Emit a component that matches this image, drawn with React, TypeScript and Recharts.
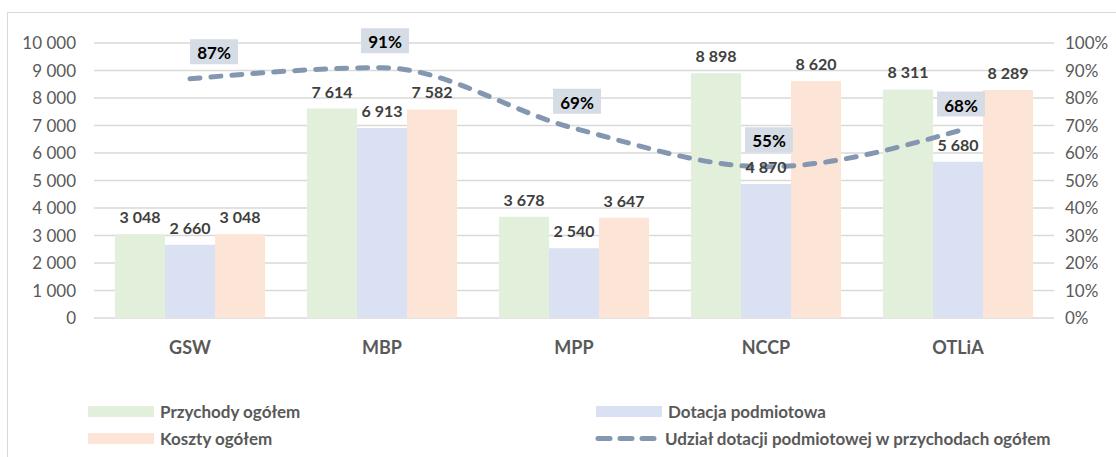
import React from 'react';
import { ComposedChart, Bar, Line, XAxis, YAxis, CartesianGrid, LabelList } from 'recharts';

const categories = ['GSW', 'MBP', 'MPP', 'NCCP', 'OTLiA'];
const przychody = [3048, 7614, 3678, 8898, 8311];
const dotacja = [2660, 6913, 2540, 4870, 5680];
const koszty = [3048, 7582, 3647, 8620, 8289];
const udzial = [0.87, 0.91, 0.69, 0.55, 0.68];
const leftTicks = [0, 1000, 2000, 3000, 4000, 5000, 6000, 7000, 8000, 9000, 10000];
const rightTicks = [0, 0.1, 0.2, 0.3, 0.4, 0.5, 0.6, 0.7, 0.8, 0.9, 1];

const seriesNames = {
  przychody: 'Przychody ogółem',
  dotacja: 'Dotacja podmiotowa',
  koszty: 'Koszty ogółem',
  udzial: 'Udział dotacji podmiotowej w przychodach ogółem',
};

const data = categories.map((c, i) => ({
  name: c,
  przychody: przychody[i],
  dotacja: dotacja[i],
  koszty: koszty[i],
  udzial: udzial[i],
}));

const FONT = 'Lato, "Liberation Sans", sans-serif';
const GREEN = '#e2efda';
const BLUE = '#d9e1f2';
const PEACH = '#fce4d6';
const LINE = '#8497b0';

const fmtNum = (v: number) => String(v).replace(/\B(?=(\d{3})+(?!\d))/g, ' ');
const fmtPct = (v: number) => `${Math.round(v * 100)}%`;

const LineLabel = (props: any) => {
  const { x, y, value, index } = props;
  const cx = x + (index === 0 ? 24 : 3);
  const cy = y - 27;
  const w = 48;
  const h = 25;
  return (
    <g>
      <rect x={cx - w / 2} y={cy - h / 2} width={w} height={h} fill="#d6dce5" />
      <text
        x={cx}
        y={cy + 1}
        textAnchor="middle"
        dominantBaseline="central"
        fontFamily={FONT}
        fontWeight={700}
        fontSize={17}
        fill="#000"
      >
        {fmtPct(value)}
      </text>
    </g>
  );
};

const barLabelStyle = { fontFamily: FONT, fontWeight: 700, fontSize: 16, fill: '#404040' };

const LegendItem = ({ kind, color, label }: { kind: 'box' | 'line'; color: string; label: string }) => (
  <div style={{ display: 'flex', alignItems: 'center', height: 27 }}>
    {kind === 'box' ? (
      <div style={{ width: 66, height: 11, background: color, marginRight: 6 }} />
    ) : (
      <svg width={70} height={11} style={{ marginRight: 2, marginLeft: -3 }}>
        <line x1={5} y1={5.5} x2={68} y2={5.5} stroke={color} strokeWidth={5} strokeLinecap="round" strokeDasharray="12 10" />
      </svg>
    )}
    <span style={{ fontFamily: FONT, fontWeight: 700, fontSize: 17, color: '#595959', whiteSpace: 'nowrap' }}>{label}</span>
  </div>
);

export default function App() {
  return (
    <div style={{ position: 'absolute', left: 0, top: 0, width: 1116, height: 457, overflow: 'hidden', background: '#fff' }}>
      <div
        style={{
          position: 'absolute',
          left: 7,
          top: 12,
          width: 1200,
          height: 600,
          border: '1.5px solid #d9d9d9',
          boxSizing: 'border-box',
        }}
      />
      <div style={{ position: 'absolute', left: 0, top: 0 }}>
        <ComposedChart
          width={1116}
          height={457}
          data={data}
          margin={{ top: 43, bottom: 109, left: 34, right: 2 }}
          barGap={0}
        >
          <CartesianGrid horizontal vertical={false} stroke="#d9d9d9" strokeWidth={1.5} yAxisId="left" />
          <XAxis
            dataKey="name"
            axisLine={false}
            tickLine={false}
            tickSize={0}
            tickMargin={23}
            height={30}
            tick={{ fontFamily: FONT, fontWeight: 700, fontSize: 18, fill: '#595959' }}
          />
          <YAxis
            yAxisId="left"
            width={60}
            domain={[0, 10000]}
            ticks={leftTicks}
            interval={0}
            axisLine={false}
            tickLine={false}
            tickSize={0}
            tickMargin={18}
            tickFormatter={fmtNum}
            tick={{ fontFamily: FONT, fontSize: 17, fill: '#595959' }}
          />
          <YAxis
            yAxisId="right"
            orientation="right"
            width={60}
            domain={[0, 1]}
            ticks={rightTicks}
            interval={0}
            axisLine={false}
            tickLine={false}
            tickSize={0}
            tickMargin={11}
            tickFormatter={fmtPct}
            tick={{ fontFamily: FONT, fontSize: 17, fill: '#595959', textAnchor: 'start' }}
          />
          <Bar yAxisId="left" dataKey="przychody" name={seriesNames.przychody} fill={GREEN} barSize={50} isAnimationActive={false}>
            <LabelList dataKey="przychody" position="top" offset={11} formatter={fmtNum} style={barLabelStyle} />
          </Bar>
          <Bar yAxisId="left" dataKey="dotacja" name={seriesNames.dotacja} fill={BLUE} barSize={50} isAnimationActive={false}>
            <LabelList dataKey="dotacja" position="top" offset={11} formatter={fmtNum} style={barLabelStyle} />
          </Bar>
          <Bar yAxisId="left" dataKey="koszty" name={seriesNames.koszty} fill={PEACH} barSize={50} isAnimationActive={false}>
            <LabelList dataKey="koszty" position="top" offset={11} formatter={fmtNum} style={barLabelStyle} />
          </Bar>
          <Line
            yAxisId="right"
            type="monotone"
            dataKey="udzial"
            name={seriesNames.udzial}
            stroke={LINE}
            strokeWidth={5}
            strokeDasharray="10 11"
            strokeLinecap="round"
            dot={false}
            activeDot={false}
            isAnimationActive={false}
          >
            <LabelList dataKey="udzial" content={<LineLabel />} />
          </Line>
        </ComposedChart>
      </div>
      <div style={{ position: 'absolute', left: 88, top: 398 }}>
        <LegendItem kind="box" color={GREEN} label={seriesNames.przychody} />
        <LegendItem kind="box" color={PEACH} label={seriesNames.koszty} />
      </div>
      <div style={{ position: 'absolute', left: 596, top: 398 }}>
        <LegendItem kind="box" color={BLUE} label={seriesNames.dotacja} />
        <LegendItem kind="line" color={LINE} label={seriesNames.udzial} />
      </div>
    </div>
  );
}
